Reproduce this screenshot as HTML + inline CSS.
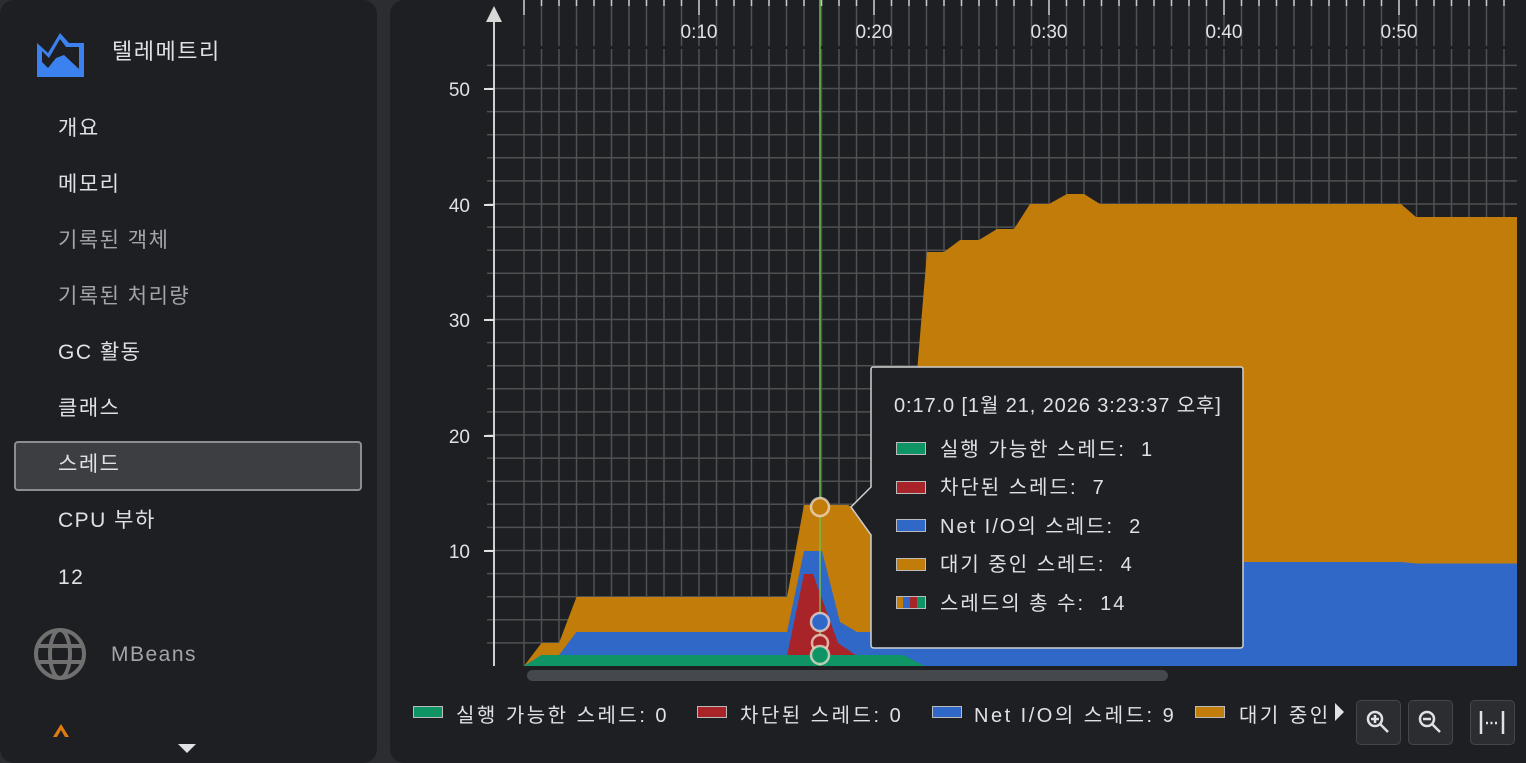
<!DOCTYPE html>
<html><head><meta charset="utf-8"><style>
html,body{margin:0;padding:0;background:#2b2d30;width:1526px;height:763px;overflow:hidden;font-family:"Liberation Sans","Noto Sans CJK KR",sans-serif;}
.side{position:absolute;left:0;top:0;width:377px;height:763px;background:#1e1f22;border-radius:14px;overflow:hidden}
.main{position:absolute;left:390px;top:0;width:1150px;height:763px;background:#1e1f22;border-radius:14px;overflow:hidden}
.it{position:absolute;left:58px;font-size:21px;letter-spacing:1.5px;color:#dfe1e5;line-height:24px}
.g{color:#a3a5a8}
.sel{position:absolute;left:14px;top:441px;width:344px;height:46px;background:#3c3e41;border:2px solid #8c8d90;border-radius:4px}
.btn{position:absolute;top:700px;width:43px;height:43px;background:#2b2d30;border:1px solid #44464a;border-radius:5px}
.lg{position:absolute;top:699px;font-size:20px;letter-spacing:2.5px;color:#dfe1e5;white-space:nowrap}
.sw{position:absolute;top:706px;width:28px;height:10px;border:1px solid #bbb}
</style></head><body>
<div class="side">
<svg style="position:absolute;left:36px;top:31px" width="50" height="47" viewBox="0 0 50 47"><path d="M1 12 L12 22 L24 2 L33 12 L48 12 L48 46 L1 46 Z" fill="#3b82f0"/><path d="M6 20 L6 31 L12 37 L20 27 L28 24 L43 38 L43 16 L30 16 L24 8 L13 27 Z" fill="#1e1f22"/></svg>
<div class="it" style="left:112px;top:40px;font-size:22px">텔레메트리</div>
<div class="it" style="top:117px">개요</div>
<div class="it" style="top:173px">메모리</div>
<div class="it g" style="top:229px">기록된 객체</div>
<div class="it g" style="top:285px">기록된 처리량</div>
<div class="it" style="top:341px">GC 활동</div>
<div class="it" style="top:397px">클래스</div>
<div class="sel"></div>
<div class="it" style="top:453px">스레드</div>
<div class="it" style="top:509px">CPU 부하</div>
<div class="it" style="top:566px">12</div>
<svg style="position:absolute;left:33px;top:627px" width="54" height="54" viewBox="0 0 54 54" fill="none" stroke="#707070" stroke-width="4"><circle cx="27" cy="27" r="24"/><ellipse cx="27" cy="27" rx="10" ry="24"/><line x1="3" y1="19" x2="51" y2="19"/><line x1="3" y1="35" x2="51" y2="35"/></svg>
<div class="it g" style="left:111px;top:643px">MBeans</div>
<svg style="position:absolute;left:51px;top:721px" width="20" height="18"><path d="M2 16 L10 3 L18 16 L14 16 L10 9 L6 16Z" fill="#e07b10"/></svg>
<svg style="position:absolute;left:178px;top:744px" width="20" height="10"><path d="M0 0 L18 0 L9 9Z" fill="#dfe1e5"/></svg>
</div>
<div class="main"></div>
<svg style="position:absolute;left:0;top:0" width="1526" height="763" font-family="Liberation Sans, Noto Sans CJK KR, sans-serif">
<g stroke="#505153" stroke-width="1.5" id="vg"></g>
<g id="grid" stroke="#4f5052" stroke-width="1.5"></g>
<polygon fill="#c27c0a" points="524,666 541.5,643 559,643 576.5,597 787,597 804,505 848,505 870,518 905,518 918,360 927,252 944,252 960,240 979,240 997,229 1014,229 1030,204 1049,204 1067,194 1084,194 1100,204 1401,204 1416,217 1517,217 1517,666"/>
<polygon fill="#3068c8" points="524,666 541.5,655 559,655 576.5,632 787,632 804,551 822,551 840,622 857,632 905,632 926,562 1401,562 1416,563.5 1517,563.5 1517,666"/>
<polygon fill="#a82428" points="787,656 804,574 813,574 838,643 857,656"/>
<polygon fill="#0f9466" points="524,666 541.5,655 903,655 925,666"/>
<line x1="820" y1="0" x2="820" y2="666" stroke="#6cc04a" stroke-width="1.5"/>
<g stroke="#f0e0d0" stroke-opacity="0.75" stroke-width="2.5"><circle cx="820" cy="507" r="9" fill="#c27c0a"/><circle cx="820" cy="622" r="9" fill="#3068c8"/><circle cx="820" cy="643" r="8" fill="#a82428"/><circle cx="820" cy="655" r="9" fill="#0f9466"/></g>
<line x1="494" y1="12" x2="494" y2="666" stroke="#d0d0d0" stroke-width="2"/>
<path d="M486 22 L494 6 L502 22Z" fill="#d8d8d8"/>
<g stroke="#e0e0e0" stroke-width="2"><line x1="484" y1="89" x2="494" y2="89"/><line x1="484" y1="205" x2="494" y2="205"/><line x1="484" y1="320" x2="494" y2="320"/><line x1="484" y1="436" x2="494" y2="436"/><line x1="484" y1="551" x2="494" y2="551"/></g>
<g fill="#dfe1e5" font-size="19" text-anchor="end"><text x="470" y="96">50</text><text x="470" y="212">40</text><text x="470" y="327">30</text><text x="470" y="443">20</text><text x="470" y="558">10</text></g>
<g fill="#dfe1e5" font-size="19" text-anchor="middle"><text x="699" y="38">0:10</text><text x="874" y="38">0:20</text><text x="1049" y="38">0:30</text><text x="1224" y="38">0:40</text><text x="1399" y="38">0:50</text></g>
<rect x="527" y="670" width="641" height="11" rx="5.5" fill="#45484c"/>
<path d="M873 367 L1241 367 Q1243 367 1243 370 L1243 645 Q1243 648 1240 648 L874 648 Q871 648 871 645 L871 535 L851 507 L871 487 L871 370 Q871 367 873 367Z" fill="#1f2023" stroke="#cfcfcf" stroke-width="1.5"/>
<g fill="#dfe1e5" font-size="20"><text x="894" y="412" letter-spacing="0.9">0:17.0 [1월 21, 2026 3:23:37 오후]</text>
<g letter-spacing="2"><text x="940" y="456">실행 가능한 스레드:&#160;&#160;1</text><text x="940" y="494">차단된 스레드:&#160;&#160;7</text><text x="940" y="533">Net I/O의 스레드:&#160;&#160;2</text><text x="940" y="571">대기 중인 스레드:&#160;&#160;4</text><text x="940" y="610">스레드의 총 수:&#160;&#160;14</text></g></g>
<g stroke="#bbb" stroke-width="1"><rect x="896.5" y="442.5" width="29" height="12" fill="#0f9466"/><rect x="896.5" y="481.5" width="29" height="12" fill="#a82428"/><rect x="896.5" y="519.5" width="29" height="12" fill="#3068c8"/><rect x="896.5" y="558.5" width="29" height="12" fill="#c27c0a"/><rect x="896.5" y="596.5" width="29" height="12" fill="#c27c0a"/></g>
<rect x="903" y="597" width="7" height="11" fill="#3068c8"/><rect x="910" y="597" width="7" height="11" fill="#a82428"/><rect x="917" y="597" width="8" height="11" fill="#0f9466"/>
</svg>
<div class="sw" style="left:413px;background:#0f9466"></div><div class="lg" style="left:456px">실행 가능한 스레드: 0</div>
<div class="sw" style="left:697px;background:#a82428"></div><div class="lg" style="left:740px">차단된 스레드: 0</div>
<div class="sw" style="left:932px;background:#3068c8"></div><div class="lg" style="left:974px">Net I/O의 스레드: 9</div>
<div class="sw" style="left:1195px;background:#c27c0a"></div><div class="lg" style="left:1239px">대기 중인</div>
<svg style="position:absolute;left:1334px;top:702px" width="12" height="20"><path d="M1 1 L10 10 L1 19Z" fill="#dfe1e5"/></svg>
<div class="btn" style="left:1356px"></div><div class="btn" style="left:1408px"></div><div class="btn" style="left:1470px"></div>
<svg style="position:absolute;left:0;top:0" width="1526" height="763" fill="none" stroke="#dfe1e5" stroke-width="2.5">
<circle cx="1375" cy="719" r="7"/><line x1="1380" y1="724" x2="1388" y2="732"/><line x1="1371" y1="719" x2="1379" y2="719"/><line x1="1375" y1="715" x2="1375" y2="723"/>
<circle cx="1427" cy="719" r="7"/><line x1="1432" y1="724" x2="1440" y2="732"/><line x1="1423" y1="719" x2="1431" y2="719"/>
<line x1="1481" y1="711" x2="1481" y2="734"/><line x1="1503" y1="711" x2="1503" y2="734"/><line x1="1486" y1="723" x2="1498" y2="723" stroke-dasharray="2 2.5"/>
</svg>
<script>
var ns="http://www.w3.org/2000/svg",g=document.getElementById("grid"),v=document.getElementById("vg");
function L(p,x1,y1,x2,y2,c){var l=document.createElementNS(ns,"line");l.setAttribute("x1",x1);l.setAttribute("y1",y1);l.setAttribute("x2",x2);l.setAttribute("y2",y2);if(c)l.setAttribute("stroke",c);p.appendChild(l);}
for(var k=0;k<=56;k++){var x=524+17.5*k;L(v,x,49,x,666);L(v,x,0,x,46);L(v,x,0,x,k%10==0?15:6,"#c8c8c8");}
for(var k=1;k<=26;k++){var y=666-23.1*k;L(g,487,y,1517,y);}
</script>
</body></html>
